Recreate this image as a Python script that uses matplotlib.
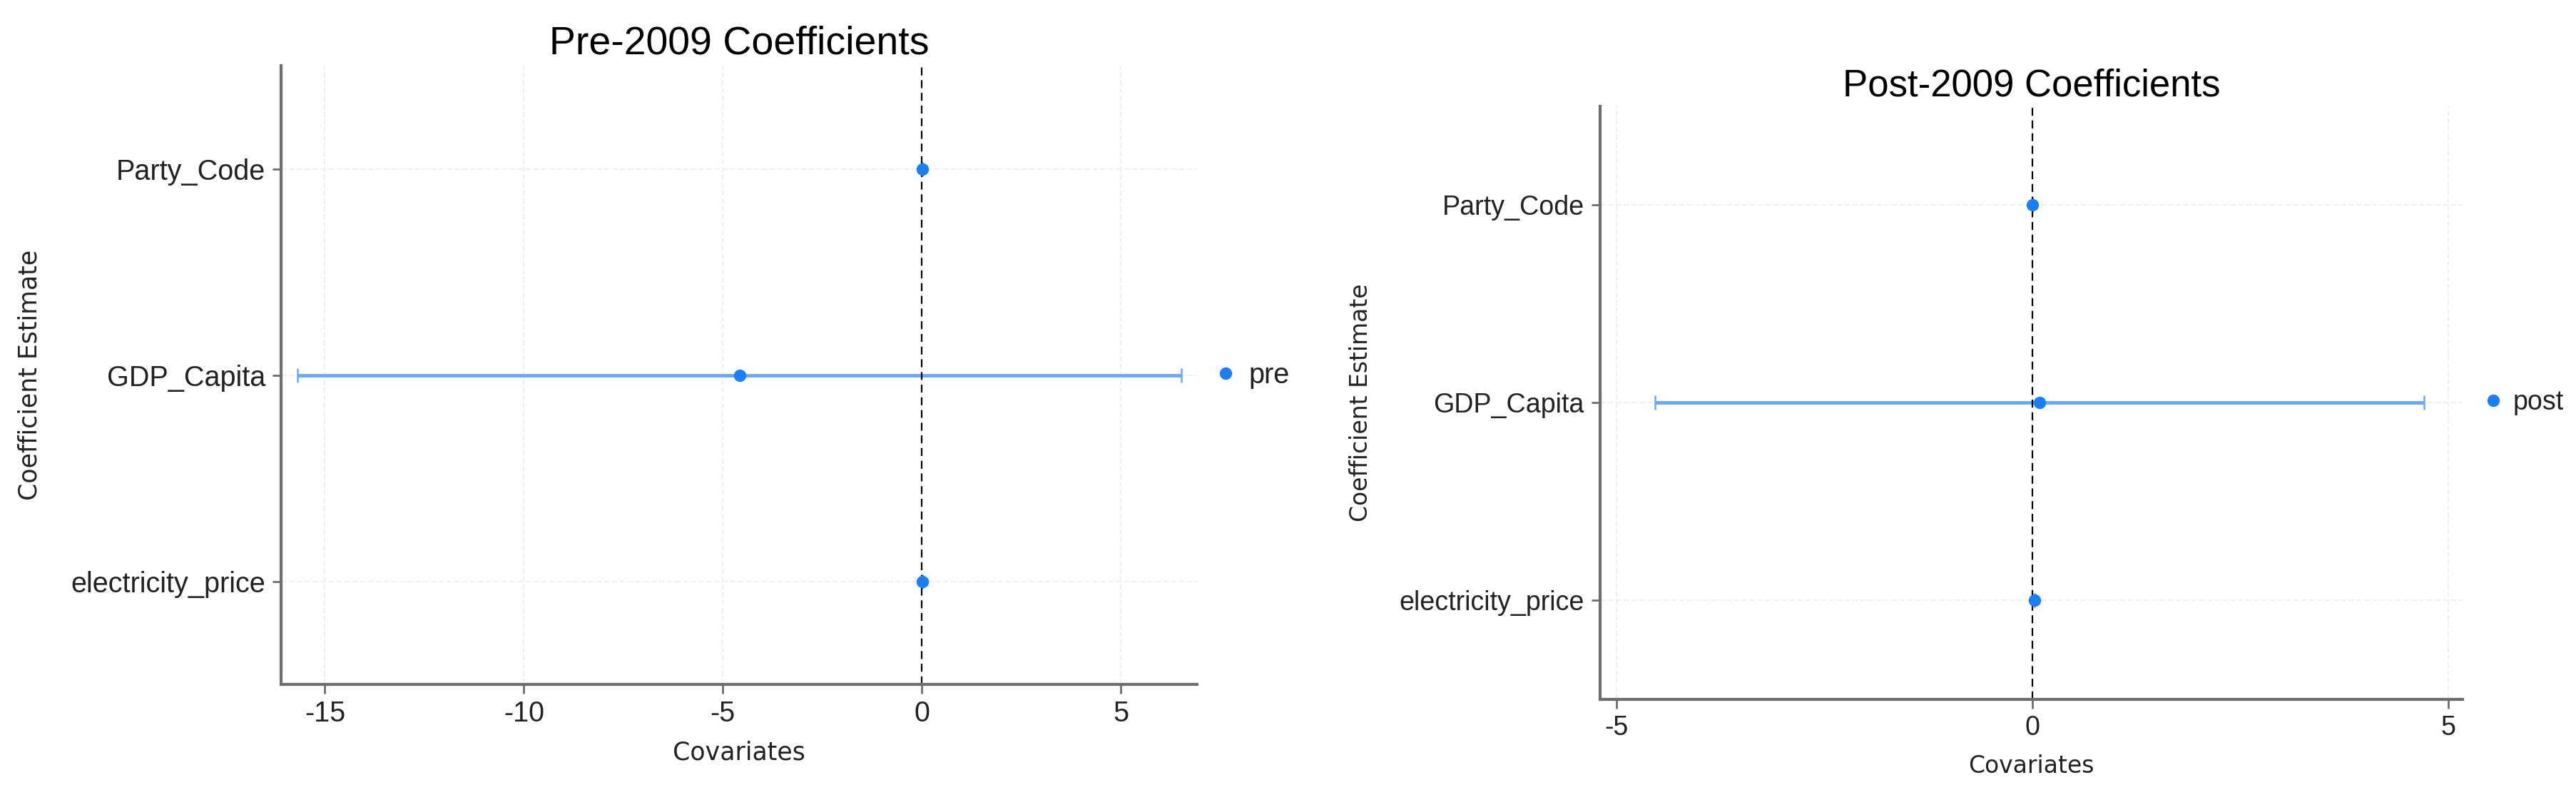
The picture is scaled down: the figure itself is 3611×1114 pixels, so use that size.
# coding=utf8
import numpy as np
import matplotlib
matplotlib.use('Agg')
import matplotlib.pyplot as plt

# 刻度用普通連字號
plt.rcParams['axes.unicode_minus'] = False

# 數據: 各變量的係數估計與置信區間 (由下到上)
covariates = ['electricity_price', 'GDP_Capita', 'Party_Code']

pre_est = [0.02, -4.57, 0.02]
pre_low = [0.02, -15.68, 0.02]
pre_high = [0.02, 6.52, 0.02]

post_est = [0.02, 0.08, 0.0]
post_low = [0.02, -4.54, 0.0]
post_high = [0.02, 4.71, 0.0]

pre_ticks = [-15, -10, -5, 0, 5]
post_ticks = [-5, 0, 5]

POINT_COLOR = '#1a7fff'
LINE_COLOR = '#68a9ff'
SPINE_COLOR = '#6e6e6e'
TEXT_COLOR = '#222222'

fig = plt.figure(figsize=(36.12, 11.14), dpi=100)


'''畫一個係數圖面板'''
def draw_panel(rect, title, est, low, high, ticks, xlim, series, s,
               title_y, xlabel_y, ylabel_x, leg_x, leg_pad):
    ax = fig.add_axes(rect)
    y = np.arange(1, len(covariates) + 1)
    est = np.array(est)
    err = [est - np.array(low), np.array(high) - est]

    ax.errorbar(est, y, xerr=err, fmt='none', ecolor=LINE_COLOR,
                elinewidth=3.5, capsize=7, capthick=1.8, zorder=1.5)
    ax.axvline(0, color='black', lw=1.6, ls=(0, (5, 3)), zorder=2)
    ax.plot(est, y, 'o', color=POINT_COLOR, ms=11.5, zorder=3, label=series)

    ax.set_xlim(*xlim)
    ax.set_ylim(0.5, len(covariates) + 0.5)
    ax.set_xticks(ticks)
    ax.set_yticks(y)
    ax.set_yticklabels(covariates)

    # 淡灰虛線網格
    ax.grid(True, color='#f0f0f0', ls='--', lw=1.5)
    ax.set_axisbelow(True)

    for side in ['top', 'right']:
        ax.spines[side].set_visible(False)
    for side in ['left', 'bottom']:
        ax.spines[side].set_color(SPINE_COLOR)
        ax.spines[side].set_linewidth(3)

    ax.tick_params(axis='both', colors=SPINE_COLOR, length=9, width=2,
                   labelcolor=TEXT_COLOR, labelsize=28.5 * s, pad=7)
    for lab in ax.get_xticklabels() + ax.get_yticklabels():
        lab.set_fontfamily('Liberation Sans')

    # 標題和座標軸標籤
    ax.text(0.5, title_y, title, transform=ax.transAxes, ha='center',
            va='baseline', fontsize=40 * s, family='Liberation Sans',
            color='black')
    ax.text(0.5, xlabel_y, 'Covariates', transform=ax.transAxes,
            ha='center', va='center', fontsize=25 * s, family='DejaVu Sans',
            color=TEXT_COLOR)
    ax.text(ylabel_x, 0.5, 'Coefficient Estimate', transform=ax.transAxes,
            ha='center', va='center', rotation=90, fontsize=25 * s,
            family='DejaVu Sans', color=TEXT_COLOR)

    # 圖例
    leg = ax.legend(loc='center left', bbox_to_anchor=(leg_x, 0.5),
                    frameon=False, handlelength=0.8, handletextpad=leg_pad,
                    borderpad=0, borderaxespad=0,
                    prop={'family': 'Liberation Sans', 'size': 28.5 * s})
    for t in leg.get_texts():
        t.set_color(TEXT_COLOR)
    return ax


draw_panel([0.1091, 0.1391, 0.3555, 0.7783], 'Pre-2009 Coefficients',
           pre_est, pre_low, pre_high, pre_ticks, (-16.1, 6.92), 'pre', 1.0,
           title_y=1.0185, xlabel_y=-0.1096, ylabel_x=-0.2749,
           leg_x=1.0191, leg_pad=0.42)

draw_panel([0.6210, 0.1203, 0.3347, 0.7460], 'Post-2009 Coefficients',
           post_est, post_low, post_high, post_ticks, (-5.2, 5.17), 'post', 0.95,
           title_y=1.0168, xlabel_y=-0.1131, ylabel_x=-0.2779,
           leg_x=1.0232, leg_pad=0.33)

plt.savefig('out.png', dpi=100)
